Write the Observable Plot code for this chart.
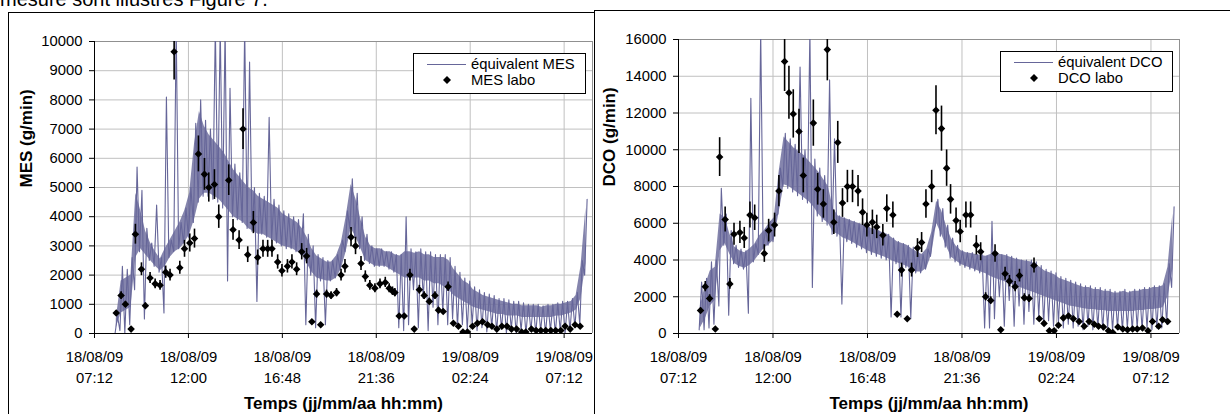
<!DOCTYPE html>
<html><head><meta charset="utf-8">
<script src="https://cdn.jsdelivr.net/npm/d3@7"></script>
<script src="https://cdn.jsdelivr.net/npm/@observablehq/plot@0.6"></script>
<style>
html,body{margin:0;padding:0;background:#fff;}
body{width:1230px;height:414px;overflow:hidden;position:relative;font-family:"Liberation Sans",Arial,sans-serif;}
.abs{position:absolute;}
#boxL{left:8px;top:12px;width:620px;height:430px;border:1px solid #000;box-sizing:border-box;}
#boxR{left:594px;top:10px;width:700px;height:430px;border-left:1.5px solid #000;border-top:1px solid #000;background:#fff;box-sizing:border-box;}
#plotL{left:0;top:0;}
#plotR{left:594px;top:0;}
svg text{font-family:"Liberation Sans",Arial,sans-serif;}
</style></head><body>
<svg class="abs" style="left:0;top:0" width="600" height="14"><text x="0" y="6" font-size="20" fill="#000">mesure sont illustrés Figure 7.</text></svg>
<div id="boxL" class="abs"></div>
<div id="plotL" class="abs"></div>
<div id="legL" class="abs"></div>
<div id="boxR" class="abs"></div>
<div id="plotR" class="abs"></div>
<div id="legR" class="abs"></div>
<script>
// ---------- DATA (hours counted from 18/08/09 00:00) ----------
const xStartHour = 7.2;      // 18/08/09 07:12
const xEndHour = 32.65;      // 19/08/09 ~08:39
const xTickHours = [7.2, 12, 16.8, 21.6, 26.4, 31.2];

const mesTicks = [0,1000,2000,3000,4000,5000,6000,7000,8000,9000,10000];
const dcoTicks = [0,2000,4000,6000,8000,10000,12000,14000,16000];

// equivalent (sensor) series, read per 15-min slot from 08:15:
//   Max / Min = extreme readings in the slot, BodyLo / BodyHi = where the dense part of the signal lies
const lineFirstHour = 8.25, lineSlotHours = 0.25;
const mesMax = [600,2300,2200,2600,5700,4900,3600,3100,4400,2600,8100,3200,10500,3800,4300,5000,7200,8000,7300,7000,
  10500,10500,10500,8400,5800,5500,10500,9300,5000,4800,4700,7400,4600,4400,4200,4100,4000,3900,4100,3400,
  3000,2700,2600,2500,2500,2700,3200,4200,5300,4800,4000,3400,3000,2900,2900,2800,2800,2700,2700,4000,
  2900,2800,2900,2800,2800,2700,2700,2700,2600,2300,2100,1900,1800,1600,1500,1400,1350,1300,1200,1200,
  1150,1100,1100,1050,1000,1000,1000,950,1000,1000,1050,1100,1100,1200,1400,2500,4600];
const mesMin = [0,100,0,300,1500,2800,500,2500,2300,2100,700,2600,2800,2900,3100,3300,3800,4500,4700,4700,
  4600,4500,4300,1800,4000,3900,3800,3600,3500,1100,3400,3300,3200,3100,3000,2900,2900,2800,2700,300,
  2000,200,1800,300,1800,1900,2200,2800,3600,3300,2900,2500,2400,2300,2300,2300,2200,2100,200,100,
  300,1500,200,1200,100,900,300,700,300,500,200,300,100,300,100,200,50,200,50,150,
  0,150,0,100,0,100,0,100,0,100,0,100,0,100,200,300,2000];
const mesBodyLo = [200,700,800,900,2600,2900,2700,2500,2300,2150,2300,2600,2800,2900,3100,3400,3900,4600,4800,4800,
  4700,4600,4400,4200,4000,3900,3800,3600,3500,3400,3400,3300,3200,3100,3000,2950,2900,2800,2700,2400,
  2100,1900,1850,1800,1800,1900,2200,2800,3600,3300,2900,2500,2400,2300,2300,2300,2200,2100,2000,1900,
  1900,1900,1900,1800,1800,1700,1700,1600,1500,1300,1200,1100,1000,900,850,800,750,700,650,650,
  600,600,600,550,550,550,550,550,550,550,600,600,650,700,800,1200,2400];
const mesBodyHi = [500,1800,1900,2000,4800,4200,3500,3100,2800,2550,2900,3200,3500,3800,4200,4800,6500,7600,7100,6800,
  6600,6400,6200,5900,5600,5400,5200,5000,4900,4700,4600,4500,4400,4300,4100,4000,3900,3800,3600,3300,
  2900,2650,2550,2450,2450,2650,3100,4000,5100,4600,3900,3300,3000,2900,2900,2800,2800,2700,2650,2800,
  2800,2750,2800,2700,2700,2600,2600,2600,2500,2200,2000,1800,1700,1500,1400,1300,1250,1200,1150,1100,
  1050,1000,1000,950,950,950,950,900,950,950,1000,1000,1050,1100,1300,2300,4300];

const dcoMax = [2800,3000,3900,4000,7900,6500,5600,4800,4600,4500,12800,4900,16500,5700,6100,6400,9000,10900,10600,10300,
  14500,10000,16500,9500,9000,8600,13800,10600,6400,6300,6200,6100,6000,5900,5800,5700,5600,5500,5400,5200,
  5000,4900,4800,4700,4500,4300,4600,5500,7300,6800,5900,5200,4800,4500,4400,4400,4300,4300,4200,6100,
  4400,4300,4300,4200,4100,4000,4000,4000,3900,3700,3500,3400,3300,3100,3000,2900,2800,2700,2600,2600,
  2500,2500,2400,2400,2300,2300,2400,2300,2400,2400,2500,2500,2600,2600,2700,3800,6900];
const dcoMin = [200,200,300,500,1500,4800,1000,3800,3600,3500,1100,3900,4300,4600,4800,5000,6500,8000,7900,7700,
  7500,7300,7100,2500,6400,6100,5900,5400,5300,1600,5000,4900,4700,4600,4400,4300,4200,4100,4000,900,
  3800,900,3600,800,3300,3300,3500,4200,5900,5300,4700,4100,3900,3700,3600,3500,3400,3300,300,300,
  800,2000,400,1800,400,1500,500,1200,500,900,500,700,400,600,300,500,300,400,200,400,
  200,300,200,300,150,300,150,300,150,300,200,300,200,300,300,500,2500];
const dcoBodyLo = [300,800,1500,1800,4500,4900,4300,3800,3650,3550,3700,3950,4300,4650,4850,5100,6600,8100,8000,7800,
  7600,7400,7200,6900,6500,6200,6000,5500,5400,5200,5100,4950,4800,4650,4500,4400,4300,4200,4100,3950,
  3850,3750,3650,3500,3350,3350,3550,4300,6000,5400,4750,4150,3950,3750,3650,3550,3450,3350,3250,3100,
  3000,2900,2800,2700,2600,2500,2400,2300,2200,2100,2000,1900,1800,1700,1600,1500,1450,1400,1350,1300,
  1300,1250,1250,1200,1200,1200,1200,1200,1200,1250,1250,1300,1300,1350,1400,2000,3500];
const dcoBodyHi = [1500,2600,3400,3600,6500,6300,5400,4700,4500,4400,4600,4850,5300,5600,6000,6300,8800,10700,10400,10100,
  9900,9700,9400,9100,8800,8400,8000,6800,6400,6300,6200,6100,6000,5900,5800,5700,5600,5500,5400,5200,
  5000,4900,4800,4600,4450,4300,4600,5500,7200,6700,5850,5150,4750,4500,4400,4350,4300,4250,4200,4300,
  4350,4300,4250,4150,4050,4000,3950,3900,3800,3600,3400,3300,3200,3000,2900,2800,2700,2600,2500,2500,
  2400,2400,2300,2300,2200,2200,2300,2200,2300,2300,2400,2400,2500,2500,2600,3600,6500];

// laboratory samples
const mesLabHours = [8.31,8.56,8.78,9.07,9.29,9.60,9.80,10.04,10.30,10.55,10.84,11.06,11.27,11.56,11.80,12.07,12.31,12.51,12.82,13.04,
  13.33,13.55,14.06,14.28,14.59,14.79,15.03,15.32,15.54,15.81,16.05,16.27,16.56,16.78,17.06,17.29,17.53,17.79,18.04,18.31,
  18.55,18.76,19.06,19.29,19.57,19.80,20.00,20.31,20.54,20.82,21.04,21.27,21.53,21.79,22.06,22.26,22.43,22.55,22.77,23.03,
  23.32,23.54,23.80,24.05,24.31,24.60,24.78,25.02,25.27,25.54,25.80,26.03,26.26,26.52,26.77,27.03,27.29,27.51,27.76,28.02,
  28.28,28.51,28.77,29.03,29.24,29.53,29.77,30.01,30.26,30.52,30.77,31.03,31.25,31.51,31.76,32.02];
const mesLabValues = [700,1300,1000,150,3400,2200,950,1900,1700,1650,2100,2000,9650,2250,2900,3100,3250,6150,5450,5000,
  5100,4000,5250,3550,3200,7000,2700,3800,2600,2900,2900,2900,2450,2150,2300,2450,2200,2800,2650,400,
  1350,300,1350,1300,1400,2000,2300,3300,3000,2400,1950,1650,1550,1700,1750,1550,1450,1400,600,600,
  2000,150,1500,1300,1100,1300,800,750,1600,350,250,50,50,250,350,400,300,250,150,250,
  250,150,150,50,50,150,100,100,100,100,100,100,250,150,300,250];
const dcoLabHours = [8.32,8.56,8.78,9.07,9.29,9.57,9.81,10.02,10.32,10.54,10.83,11.07,11.56,11.78,12.08,12.30,12.59,12.81,13.03,13.32,
  13.54,14.05,14.27,14.56,14.76,15.09,15.29,15.53,15.78,16.04,16.32,16.55,16.77,17.05,17.27,17.58,17.78,18.09,18.31,18.53,
  18.82,19.04,19.34,19.55,19.77,20.06,20.28,20.56,20.82,21.02,21.30,21.51,21.80,22.04,22.33,22.55,22.80,23.06,23.28,23.57,
  23.79,24.01,24.30,24.52,24.77,25.01,25.26,25.53,25.77,26.04,26.28,26.50,26.75,27.01,27.26,27.55,27.81,28.06,28.32,28.54,
  28.79,29.04,29.26,29.52,29.77,30.01,30.27,30.50,30.77,31.05,31.28,31.59,31.79,32.05];
const dcoLabValues = [1250,2550,1900,250,9600,6200,2700,5400,5500,5200,6450,6300,4350,5600,5900,7750,14800,13100,11950,11000,
  8600,11450,7850,7050,15450,6050,10400,7100,8000,8000,7750,6600,5900,6050,5800,5350,6800,6450,1050,3450,
  800,3450,4650,4950,7050,8000,12150,11150,9000,7300,6150,5550,6450,6450,4800,4450,2000,1800,4350,200,
  3250,2850,2550,3150,1950,1900,3700,800,550,150,150,450,850,950,800,650,400,650,500,400,
  350,150,50,350,250,200,250,250,300,150,650,400,750,650];
const mesErrFrac = 0.10, dcoErrFrac = 0.11;   // relative error bars

// ---------- DRAWING ----------
const H = h => new Date(Date.UTC(2009,7,18) + h*3600e3);
const FONT = '"Liberation Sans", Arial, sans-serif';
const LINE_COLOR = "#666699";

function chart(o) {
  const lineData = [], body = [];
  o.min.forEach((lo, i) => {
    const h = lineFirstHour + i*lineSlotHours;
    lineData.push({t: H(h), v: lo});
    lineData.push({t: H(h + lineSlotHours/2), v: o.max[i]});
    body.push({t: H(h + lineSlotHours/4), lo: o.bodyLo[i], hi: o.bodyHi[i]});
  });
  const lab = o.labHours.map((h, i) => ({t: H(h), v: o.labValues[i],
    lo: o.labValues[i]*(1 - o.errFrac), hi: o.labValues[i]*(1 + o.errFrac)}));
  const xDom = [H(xStartHour), H(xEndHour)];
  const xTicks = xTickHours.map(H);
  const yMax = o.yTicks[o.yTicks.length-1];
  return Plot.plot({
    width: o.width, height: 414,
    marginLeft: o.marginLeft, marginRight: o.marginRight, marginTop: o.marginTop, marginBottom: 81,
    style: {fontFamily: FONT, fontSize: "14.8px", background: "transparent", overflow: "visible", color: "#000"},
    x: {type: "utc", domain: xDom},
    y: {domain: [0, yMax]},
    marks: [
      Plot.gridY({ticks: o.yTicks, stroke: "#c0c0c0", strokeOpacity: 1}),
      Plot.gridX({ticks: xTicks, stroke: "#c0c0c0", strokeOpacity: 1}),
      Plot.ruleY([yMax], {stroke: "#909090"}),
      Plot.ruleX([xDom[1]], {stroke: "#909090"}),
      Plot.areaY(body, {x: "t", y1: "lo", y2: "hi", fill: LINE_COLOR, fillOpacity: 0.8, clip: true}),
      Plot.line(lineData, {x: "t", y: "v", stroke: LINE_COLOR, strokeWidth: 1.1, clip: true}),
      Plot.ruleX(lab, {x: "t", y1: "lo", y2: "hi", stroke: "#000", strokeWidth: 1.6, clip: true}),
      Plot.dot(lab, {x: "t", y: "v", symbol: "diamond2", r: 3.4, fill: "#000", stroke: null, clip: true}),
      Plot.ruleX([xDom[0]], {stroke: "#000"}),
      Plot.ruleY([0], {stroke: "#000"}),
      Plot.axisY({ticks: o.yTicks, tickSize: 5, tickPadding: 7, tickFormat: d => String(d), label: null}),
      Plot.axisX({ticks: xTicks, tickSize: 5, tickPadding: 13.2, tickFormat: d3.utcFormat("%d/%m/%y"), label: null}),
      Plot.axisX({ticks: xTicks, tickSize: 0, tickPadding: 39.2, tickFormat: d3.utcFormat("%H:%M"), label: null}),
      Plot.text([o.yLabel], {frameAnchor: "left", dx: o.yLabelX - o.marginLeft, rotate: -90, fontWeight: "bold", fontSize: 17}),
      Plot.text([o.xLabel], {frameAnchor: "bottom", dy: 75, lineAnchor: "bottom", fontWeight: "bold", fontSize: 17})
    ]
  });
}

function legend(el, left, top, label1, label2) {
  const w = 173, h = 41;
  el.style.left = left + "px"; el.style.top = top + "px";
  el.innerHTML = `<svg width="${w}" height="${h}" style="display:block">
    <rect x="0.5" y="0.5" width="${w-1}" height="${h-1}" fill="#fff" stroke="#000"/>
    <line x1="14" x2="53" y1="11.5" y2="11.5" stroke="${LINE_COLOR}" stroke-width="1"/>
    <path d="M34,23 L38,27 L34,31 L30,27 Z" fill="#000"/>
    <text x="58" y="16" font-size="14.8" fill="#000">${label1}</text>
    <text x="58" y="32" font-size="14.8" fill="#000">${label2}</text>
  </svg>`;
}

document.getElementById("plotL").appendChild(chart({
  width: 594, marginLeft: 94, marginRight: 2, marginTop: 41,
  yTicks: mesTicks, max: mesMax, min: mesMin, bodyLo: mesBodyLo, bodyHi: mesBodyHi,
  labHours: mesLabHours, labValues: mesLabValues, errFrac: mesErrFrac,
  yLabel: "MES (g/min)", yLabelX: 26, xLabel: "Temps (jj/mm/aa hh:mm)"
}));
document.getElementById("plotR").appendChild(chart({
  width: 636, marginLeft: 84, marginRight: 51, marginTop: 39,
  yTicks: dcoTicks, max: dcoMax, min: dcoMin, bodyLo: dcoBodyLo, bodyHi: dcoBodyHi,
  labHours: dcoLabHours, labValues: dcoLabValues, errFrac: dcoErrFrac,
  yLabel: "DCO (g/min)", yLabelX: 15, xLabel: "Temps (jj/mm/aa hh:mm)"
}));
legend(document.getElementById("legL"), 413, 53, "équivalent MES", "MES labo");
legend(document.getElementById("legR"), 1000, 51, "équivalent DCO", "DCO labo");
</script>
</body></html>
